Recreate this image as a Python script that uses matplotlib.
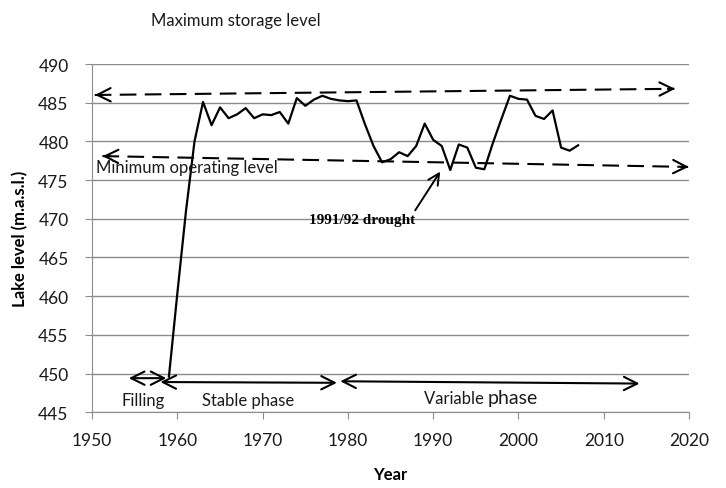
import matplotlib
matplotlib.use("Agg")
from matplotlib import pyplot as plt

years = list(range(1959, 2008))
lake_level = [449.6, 460.5, 471.0, 480.0, 485.1, 482.1, 484.4, 483.0, 483.5, 484.3,
              483.0, 483.5, 483.4, 483.8, 482.3, 485.6, 484.6, 485.4, 485.9, 485.5,
              485.3, 485.2, 485.3, 482.2, 479.4, 477.3, 477.7, 478.6, 478.1, 479.4,
              482.3, 480.2, 479.4, 476.3, 479.6, 479.2, 476.6, 476.4, 479.8, 482.9,
              485.9, 485.5, 485.4, 483.3, 482.9, 484.0, 479.2, 478.8, 479.5]

x_ticks = [1950, 1960, 1970, 1980, 1990, 2000, 2010, 2020]
y_ticks = [445, 450, 455, 460, 465, 470, 475, 480, 485, 490]

plt.rcParams['font.family'] = ['Lato', 'DejaVu Sans']

fig = plt.figure(figsize=(7.26, 4.89), dpi=100)
ax = fig.add_axes([0.127, 0.155, 0.822, 0.712])

ax.plot(years, lake_level, color="black", lw=1.6, zorder=3)

ax.set_xlim(1950, 2020)
ax.set_ylim(445, 490)
ax.set_xticks(x_ticks)
ax.set_yticks(y_ticks)
ax.grid(axis="y", color="#8c8c8c", lw=1)
ax.set_axisbelow(True)
for s in ["top", "right"]:
    ax.spines[s].set_visible(False)
for s in ["left", "bottom"]:
    ax.spines[s].set_color("#8c8c8c")
ax.tick_params(axis="both", colors="#8c8c8c", labelcolor="#1a1a1a",
               labelsize=12.5, length=5)
ax.tick_params(axis="x", pad=9)
ax.tick_params(axis="y", pad=12)

ax.set_xlabel("Year", fontsize=12, fontweight="bold", labelpad=13)
ax.set_ylabel("Lake level (m.a.s.l.)", fontsize=12, fontweight="bold", labelpad=7)

head = dict(arrowstyle="->", lw=1.5, color="black", mutation_scale=24)

# maximum storage level
ax.plot([1950.3, 2018.3], [486.0, 486.8], color="black", lw=1.5,
        dashes=(8, 4), clip_on=False)
ax.annotate("", xy=(1950.0, 486.0), xytext=(1951.5, 486.02),
            arrowprops=head, annotation_clip=False)
ax.annotate("", xy=(2018.7, 486.8), xytext=(2017.2, 486.78),
            arrowprops=head, annotation_clip=False)
ax.text(1966.8, 495.7, "Maximum storage level", fontsize=12, color="#1a1a1a",
        ha="center", va="center", clip_on=False)

# minimum operating level
ax.plot([1951.2, 2019.9], [478.1, 476.7], color="black", lw=1.5,
        dashes=(8, 4), clip_on=False)
ax.annotate("", xy=(1950.9, 478.1), xytext=(1952.4, 478.07),
            arrowprops=head, annotation_clip=False)
ax.annotate("", xy=(2020.3, 476.7), xytext=(2018.8, 476.73),
            arrowprops=head, annotation_clip=False)
ax.text(1950.5, 476.7, "Minimum operating level", fontsize=12, color="#1a1a1a",
        ha="left", va="center")

# drought
ax.annotate("1991/92 drought", xy=(1991.0, 476.4), xytext=(1981.7, 469.9),
            fontsize=11, fontweight="bold", family="Liberation Serif",
            ha="center", va="center",
            arrowprops=dict(arrowstyle="->", lw=1.4, color="black",
                            mutation_scale=20, shrinkA=0,
                            relpos=(0.98, 1.0)))

# phases
both = dict(arrowstyle="<->", lw=1.5, color="black", mutation_scale=24,
            shrinkA=0, shrinkB=0)
ax.annotate("", xy=(1954.3, 449.4), xytext=(1958.7, 449.4), arrowprops=both)
ax.annotate("", xy=(1958.0, 448.9), xytext=(1978.7, 448.8), arrowprops=both)
ax.annotate("", xy=(1979.1, 449.0), xytext=(2014.2, 448.7), arrowprops=both)
ax.text(1956.0, 446.6, "Filling", fontsize=12, color="#1a1a1a",
        ha="center", va="center")
ax.text(1968.3, 446.6, "Stable phase", fontsize=12, color="#1a1a1a",
        ha="center", va="center")
ax.text(1996.4, 446.8, "Variable ", fontsize=12, color="#1a1a1a",
        ha="right", va="center")
ax.text(1996.4, 446.9, "phase", fontsize=14, color="#1a1a1a",
        ha="left", va="center")

fig.savefig("out.png", dpi=100)
